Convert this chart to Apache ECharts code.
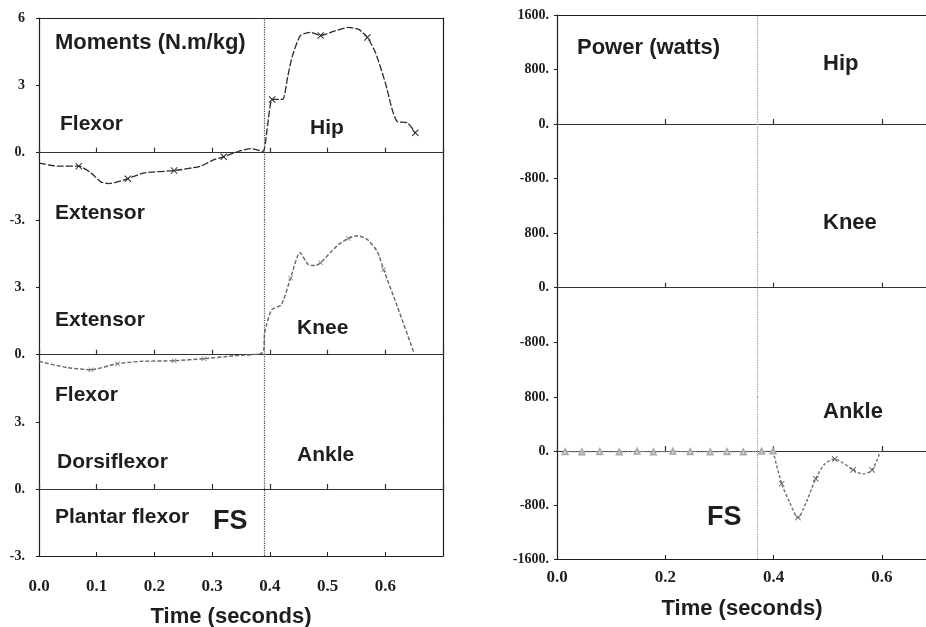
<!DOCTYPE html>
<html>
<head>
<meta charset="utf-8">
<script src="https://cdn.jsdelivr.net/npm/echarts@6/dist/echarts.min.js"></script>
<style>
html,body{margin:0;padding:0;background:#fff;}
#chart{width:926px;height:627px;}
</style>
</head>
<body>
<div id="chart"></div>
<script>
// joint moments (N.m/kg)
var hipT = [0.0, 0.033, 0.069, 0.09, 0.107, 0.121, 0.154, 0.182, 0.234, 0.28, 0.303, 0.32, 0.344, 0.367, 0.388, 0.396, 0.404, 0.422, 0.431, 0.439, 0.453, 0.471, 0.488, 0.51, 0.536, 0.554, 0.569, 0.583, 0.6, 0.612, 0.621, 0.638, 0.652];
var hipV = [-0.47, -0.6, -0.6, -0.9, -1.3, -1.38, -1.16, -0.9, -0.8, -0.6, -0.31, -0.18, 0.04, 0.18, 0.06, 1.2, 2.37, 2.37, 3.4, 4.3, 5.22, 5.36, 5.22, 5.4, 5.58, 5.49, 5.13, 4.46, 3.12, 1.92, 1.38, 1.34, 0.89];
var hipMarks = [2, 6, 8, 11, 16, 22, 26, 32];

var kneeT = [0.0, 0.05, 0.09, 0.136, 0.176, 0.234, 0.286, 0.337, 0.388, 0.391, 0.403, 0.42, 0.436, 0.452, 0.467, 0.479, 0.488, 0.505, 0.519, 0.536, 0.552, 0.569, 0.586, 0.597, 0.621, 0.649];
var kneeV = [-0.3, -0.58, -0.67, -0.4, -0.3, -0.27, -0.18, -0.05, 0.1, 0.98, 2.0, 2.23, 3.42, 4.55, 4.0, 3.97, 4.1, 4.55, 4.91, 5.18, 5.3, 5.13, 4.6, 3.8, 2.14, 0.13];
var kneeMarks = [2, 3, 5, 6, 12, 16, 19, 23];

// ankle power (watts), right plot
var powT = [0.015, 0.046, 0.079, 0.115, 0.148, 0.178, 0.214, 0.246, 0.283, 0.314, 0.344, 0.378, 0.399, 0.415, 0.43, 0.445, 0.46, 0.478, 0.495, 0.513, 0.528, 0.547, 0.565, 0.582, 0.597];
var powV = [-10, -15, -10, -15, -5, -15, -5, -10, -15, -10, -15, -5, 0, -485, -765, -985, -765, -410, -190, -120, -175, -280, -340, -280, 0];
var powMarks = [13, 15, 17, 19, 21, 23];

// foot strike
var fsLeft = 0.388;
var fsRight = 0.371;

// tick labels
var timeLabelsLeft = ['0.0', '0.1', '0.2', '0.3', '0.4', '0.5', '0.6', ''];
var timeLabelsRight = ['0.0', '0.2', '0.4', '0.6'];
var hipMomentLabels = ['-3.', '0.', '3', '6'];
var kneeMomentLabels = ['', '0.', '3.', ''];
var ankleMomentLabels = ['-3.', '0.', '3.'];
var hipPowerLabels = ['', '-800.', '0.', '800.', '1600.'];
var kneePowerLabels = ['', '-800.', '0.', '800.'];
var anklePowerLabels = ['-1600.', '-800.', '0.', '800.'];

var chart = echarts.init(document.getElementById('chart'));
var ink = '#1e1e1e';
var serif = '"Liberation Serif", "Times New Roman", serif';
var sans = '"Liberation Sans", Arial, sans-serif';
var cross = 'path://M1,0L5,4L9,0L10,1L6,5L10,9L9,10L5,6L1,10L0,9L4,5L0,1Z';

var grids = [
	{left: 39, top: 18, width: 404, height: 202},
	{left: 39, top: 220, width: 404, height: 202},
	{left: 39, top: 422, width: 404, height: 134},
	{left: 557, top: 15, width: 379, height: 218},
	{left: 557, top: 233, width: 379, height: 164},
	{left: 557, top: 397, width: 379, height: 162}
];
grids.forEach(function(g){ g.outerBoundsMode = 'none'; g.containLabel = false; });

var yRange = [
	[-3, 6, 3, hipMomentLabels],
	[-3, 6, 3, kneeMomentLabels],
	[-3, 3, 3, ankleMomentLabels],
	[-1600, 1600, 800, hipPowerLabels],
	[-1600, 800, 800, kneePowerLabels],
	[-1600, 800, 800, anklePowerLabels]
];

function pick(labels, min, step){
	return function(v){
		var k = (v - min) / step, r = Math.round(k);
		return Math.abs(k - r) < 1e-6 ? (labels[r] || '') : '';
	};
}

var xAxes = [], yAxes = [];
grids.forEach(function(g, i){
	var left = i < 3;
	var r = yRange[i];
	yAxes.push({
		type: 'value', gridIndex: i, min: r[0], max: r[1], interval: r[2],
		axisLine: {show: true, onZero: false, lineStyle: {color: ink, width: 1.2}},
		axisTick: {show: true, length: 3, lineStyle: {color: ink}},
		axisLabel: {margin: left ? 14 : 8, formatter: pick(r[3], r[0], r[2]),
			fontFamily: serif, fontWeight: 'bold', fontSize: 14, color: ink},
		splitLine: {show: false}
	});
	// zero line of each band
	xAxes.push({
		type: 'value', gridIndex: i, min: 0, max: 0.7, interval: left ? 0.1 : 0.2,
		axisLine: {show: true, onZero: true, lineStyle: {color: '#333', width: 1.2}},
		axisTick: {show: true, inside: true, length: 5, lineStyle: {color: '#333', width: 1.2}},
		axisLabel: {show: false},
		splitLine: {show: false}
	});
});
// frame: top lines
[0, 3].forEach(function(i){
	xAxes.push({
		type: 'value', gridIndex: i, min: 0, max: 0.7, position: 'top',
		axisLine: {show: true, onZero: false, lineStyle: {color: ink, width: 1.2}},
		axisTick: {show: false}, axisLabel: {show: false}, splitLine: {show: false}
	});
});
// bottom time axes
[[2, timeLabelsLeft, 0.1, 22], [5, timeLabelsRight, 0.2, 10]].forEach(function(b){
	xAxes.push({
		type: 'value', gridIndex: b[0], min: 0, max: 0.7, interval: b[2], position: 'bottom',
		axisLine: {show: true, onZero: false, lineStyle: {color: ink, width: 1.2}},
		axisTick: {show: true, inside: true, length: 4, lineStyle: {color: ink}},
		axisLabel: {margin: b[3], formatter: pick(b[1], 0, b[2]),
			fontFamily: serif, fontWeight: 'bold', fontSize: 17, color: ink},
		splitLine: {show: false}
	});
});
// frame: right side of the moments panel
[0, 1, 2].forEach(function(i){
	yAxes.push({
		type: 'value', gridIndex: i, min: yRange[i][0], max: yRange[i][1], position: 'right',
		axisLine: {show: true, onZero: false, lineStyle: {color: ink, width: 1.2}},
		axisTick: {show: false}, axisLabel: {show: false}, splitLine: {show: false}
	});
});

function marked(t, v, marks){
	return t.map(function(x, k){
		var p = {value: [x, v[k]]};
		if (marks.indexOf(k) < 0) p.symbol = 'none';
		return p;
	});
}
function pts(t, v){
	return t.map(function(x, k){ return [x, v[k]]; });
}
function fsLine(x, color){
	return {
		silent: true, symbol: ['none', 'none'], label: {show: false},
		lineStyle: {type: 'dotted', color: color, width: 1.2},
		data: [{xAxis: x}], animation: false
	};
}

var series = [
	{
		name: 'Hip moment', type: 'line', xAxisIndex: 0, yAxisIndex: 0, smooth: 0.2,
		symbol: cross, symbolSize: 7,
		itemStyle: {color: '#2a2a2a'},
		lineStyle: {color: '#2a2a2a', width: 1.3, type: [7, 2]},
		data: marked(hipT, hipV, hipMarks),
		markLine: fsLine(fsLeft, '#444')
	},
	{
		name: 'Knee moment', type: 'line', xAxisIndex: 1, yAxisIndex: 1, smooth: 0.2,
		symbol: cross, symbolSize: 5,
		itemStyle: {color: '#777'},
		lineStyle: {color: '#666', width: 1.4, type: [4, 2]},
		data: marked(kneeT, kneeV, kneeMarks),
		markLine: fsLine(fsLeft, '#555')
	},
	{
		name: 'Ankle moment', type: 'line', xAxisIndex: 2, yAxisIndex: 2,
		data: [], markLine: fsLine(fsLeft, '#444')
	},
	{
		name: 'Hip power', type: 'line', xAxisIndex: 3, yAxisIndex: 3,
		data: [], markLine: fsLine(fsRight, '#999')
	},
	{
		name: 'Knee power', type: 'line', xAxisIndex: 4, yAxisIndex: 4,
		data: [], markLine: fsLine(fsRight, '#999')
	},
	{
		name: 'Ankle power (pre)', type: 'line', xAxisIndex: 5, yAxisIndex: 5,
		symbol: 'emptyTriangle', symbolSize: 5,
		itemStyle: {color: '#aaa', borderWidth: 1},
		lineStyle: {color: '#aaa', width: 1.2, type: 'dotted'},
		data: pts(powT.slice(0, 13), powV.slice(0, 13)),
		markLine: fsLine(fsRight, '#999')
	},
	{
		name: 'Ankle power', type: 'line', xAxisIndex: 5, yAxisIndex: 5, smooth: 0.3,
		symbol: cross, symbolSize: 6,
		itemStyle: {color: '#555'},
		lineStyle: {color: '#777', width: 1.5, type: [3, 2]},
		data: marked(powT, powV, powMarks).slice(12)
	}
];

function label(s, x, y, size, align){
	return {
		type: 'text', x: x, y: y, silent: true, z: 10,
		style: {text: s, fill: ink, font: 'bold ' + size + 'px ' + sans,
			textAlign: align || 'left', textVerticalAlign: 'middle'}
	};
}

var texts = [
	label('Moments (N.m/kg)', 55, 43, 22),
	label('Flexor', 60, 124, 21),
	label('Hip', 310, 128, 21),
	label('Extensor', 55, 213, 21),
	label('Extensor', 55, 320, 21),
	label('Knee', 297, 328, 21),
	label('Flexor', 55, 395, 21),
	label('Dorsiflexor', 57, 462, 21),
	label('Ankle', 297, 455, 21),
	label('Plantar flexor', 55, 517, 21),
	label('FS', 213, 522, 27),
	label('Time (seconds)', 231, 617, 22, 'center'),
	label('Power (watts)', 577, 48, 22),
	label('Hip', 823, 64, 22),
	label('Knee', 823, 223, 22),
	label('Ankle', 823, 412, 22),
	label('FS', 707, 518, 27),
	label('Time (seconds)', 742, 609, 22, 'center')
];

var option = {
	animation: false,
	backgroundColor: '#fff',
	grid: grids,
	xAxis: xAxes,
	yAxis: yAxes,
	series: series,
	graphic: texts
};
chart.setOption(option);
</script>
</body>
</html>
